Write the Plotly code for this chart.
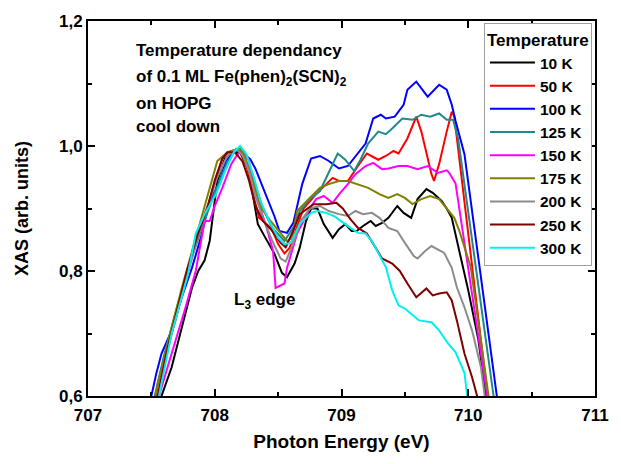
import plotly.graph_objects as go

# ---------------- data ----------------
temps = ["10 K", "50 K", "100 K", "125 K", "150 K", "175 K", "200 K", "250 K", "300 K"]
colors = ["#000000", "#ff0000", "#0000ff", "#1f8a8a", "#ff00ff", "#808000", "#8c8c8c", "#800000", "#00f0f0"]

e_10K = [707.55, 707.58, 707.66, 707.74, 707.82, 707.87, 707.92, 707.96, 707.99, 708.02, 708.08, 708.13, 708.20, 708.26, 708.30, 708.34, 708.40, 708.47, 708.53, 708.57, 708.63, 708.67, 708.72, 708.76, 708.81, 708.86, 708.93, 708.98, 709.03, 709.08, 709.12, 709.17, 709.23, 709.27, 709.32, 709.37, 709.44, 709.49, 709.55, 709.60, 709.67, 709.72, 709.79, 709.83, 709.87, 709.94, 710.00, 710.08, 710.12, 710.14, 710.16]
v_10K = [0.57, 0.60, 0.646, 0.71, 0.773, 0.80, 0.817, 0.848, 0.90, 0.944, 0.98, 0.99, 0.99, 0.964, 0.923, 0.875, 0.853, 0.828, 0.797, 0.79, 0.812, 0.837, 0.88, 0.90, 0.90, 0.875, 0.853, 0.867, 0.875, 0.864, 0.864, 0.872, 0.88, 0.872, 0.877, 0.885, 0.904, 0.893, 0.885, 0.915, 0.931, 0.925, 0.912, 0.90, 0.885, 0.821, 0.769, 0.69, 0.625, 0.60, 0.57]

e_50K = [707.52, 707.55, 707.61, 707.69, 707.77, 707.83, 707.89, 707.95, 708.01, 708.06, 708.10, 708.18, 708.23, 708.27, 708.31, 708.35, 708.40, 708.45, 708.50, 708.55, 708.59, 708.63, 708.70, 708.80, 708.93, 708.98, 709.05, 709.13, 709.20, 709.29, 709.35, 709.41, 709.45, 709.52, 709.59, 709.63, 709.67, 709.71, 709.73, 709.77, 709.83, 709.87, 709.89, 710.15, 710.17]
v_50K = [0.57, 0.62, 0.668, 0.721, 0.785, 0.837, 0.875, 0.907, 0.949, 0.98, 0.99, 0.995, 0.98, 0.955, 0.917, 0.885, 0.877, 0.867, 0.843, 0.828, 0.837, 0.86, 0.90, 0.923, 0.949, 0.944, 0.944, 0.968, 0.988, 0.978, 0.984, 0.992, 0.988, 1.012, 1.047, 1.023, 0.987, 0.955, 0.944, 0.971, 1.023, 1.055, 1.047, 0.60, 0.57]

e_100K = [707.48, 707.50, 707.54, 707.58, 707.65, 707.74, 707.82, 707.89, 707.96, 708.03, 708.09, 708.17, 708.23, 708.28, 708.32, 708.36, 708.41, 708.47, 708.51, 708.57, 708.62, 708.69, 708.76, 708.83, 708.90, 708.98, 709.05, 709.13, 709.19, 709.25, 709.31, 709.35, 709.42, 709.49, 709.52, 709.59, 709.68, 709.77, 709.83, 709.87, 709.90, 709.97, 710.10, 710.22, 710.24]
v_100K = [0.594, 0.60, 0.637, 0.668, 0.70, 0.758, 0.805, 0.853, 0.912, 0.939, 0.976, 0.995, 0.987, 0.979, 0.964, 0.944, 0.917, 0.888, 0.864, 0.861, 0.877, 0.939, 0.98, 0.984, 0.976, 0.964, 0.968, 0.988, 1.004, 1.044, 1.05, 1.044, 1.047, 1.066, 1.09, 1.103, 1.079, 1.098, 1.09, 1.066, 1.04, 0.987, 0.79, 0.60, 0.578]

e_125K = [707.52, 707.56, 707.60, 707.70, 707.80, 707.90, 708.00, 708.10, 708.17, 708.22, 708.30, 708.38, 708.45, 708.55, 708.62, 708.67, 708.75, 708.83, 708.97, 709.03, 709.10, 709.15, 709.21, 709.29, 709.35, 709.40, 709.48, 709.56, 709.63, 709.70, 709.77, 709.83, 709.88, 709.92, 710.20, 710.22]
v_125K = [0.594, 0.63, 0.665, 0.74, 0.81, 0.87, 0.925, 0.975, 0.995, 0.99, 0.95, 0.90, 0.87, 0.848, 0.87, 0.896, 0.915, 0.928, 0.988, 0.978, 0.96, 0.978, 1.004, 1.023, 1.019, 1.028, 1.044, 1.042, 1.05, 1.047, 1.052, 1.042, 1.042, 1.012, 0.60, 0.57]

e_150K = [707.53, 707.56, 707.66, 707.77, 707.85, 707.92, 707.96, 708.00, 708.06, 708.13, 708.18, 708.22, 708.27, 708.31, 708.36, 708.41, 708.46, 708.48, 708.55, 708.57, 708.65, 708.75, 708.80, 708.86, 708.93, 708.99, 709.05, 709.11, 709.19, 709.25, 709.32, 709.37, 709.45, 709.52, 709.60, 709.68, 709.76, 709.83, 709.85, 709.90, 710.15, 710.17]
v_150K = [0.57, 0.60, 0.668, 0.742, 0.80, 0.88, 0.88, 0.904, 0.933, 0.971, 0.987, 0.992, 0.976, 0.939, 0.90, 0.869, 0.832, 0.773, 0.78, 0.805, 0.86, 0.90, 0.915, 0.92, 0.909, 0.925, 0.939, 0.955, 0.968, 0.973, 0.963, 0.964, 0.968, 0.968, 0.963, 0.968, 0.957, 0.961, 0.957, 0.94, 0.60, 0.57]

e_175K = [707.50, 707.53, 707.66, 707.74, 707.86, 707.95, 708.02, 708.10, 708.20, 708.23, 708.30, 708.37, 708.44, 708.52, 708.57, 708.61, 708.65, 708.75, 708.83, 708.90, 708.98, 709.05, 709.13, 709.21, 709.30, 709.37, 709.44, 709.50, 709.56, 709.63, 709.70, 709.77, 709.83, 709.89, 709.93, 709.97, 710.02, 710.16, 710.18]
v_175K = [0.57, 0.60, 0.71, 0.773, 0.86, 0.923, 0.976, 0.99, 0.996, 0.987, 0.944, 0.90, 0.88, 0.86, 0.848, 0.853, 0.896, 0.917, 0.933, 0.939, 0.944, 0.944, 0.939, 0.933, 0.923, 0.917, 0.923, 0.917, 0.907, 0.915, 0.92, 0.915, 0.90, 0.885, 0.864, 0.837, 0.806, 0.60, 0.57]

e_200K = [707.52, 707.55, 707.62, 707.70, 707.78, 707.86, 707.94, 708.02, 708.10, 708.17, 708.22, 708.27, 708.32, 708.38, 708.45, 708.52, 708.56, 708.62, 708.68, 708.75, 708.83, 708.90, 708.98, 709.05, 709.11, 709.17, 709.24, 709.30, 709.37, 709.44, 709.50, 709.57, 709.60, 709.66, 709.71, 709.76, 709.81, 709.87, 709.91, 709.97, 710.03, 710.10, 710.13, 710.15]
v_200K = [0.57, 0.60, 0.668, 0.73, 0.79, 0.85, 0.90, 0.95, 0.985, 0.995, 0.985, 0.96, 0.92, 0.885, 0.85, 0.82, 0.815, 0.845, 0.88, 0.90, 0.904, 0.896, 0.891, 0.888, 0.896, 0.891, 0.893, 0.885, 0.869, 0.864, 0.845, 0.824, 0.82, 0.832, 0.84, 0.835, 0.829, 0.805, 0.774, 0.742, 0.705, 0.646, 0.60, 0.57]

e_250K = [707.52, 707.55, 707.62, 707.70, 707.78, 707.86, 707.94, 708.00, 708.06, 708.10, 708.16, 708.22, 708.27, 708.32, 708.38, 708.45, 708.52, 708.56, 708.62, 708.67, 708.78, 708.88, 708.96, 709.01, 709.07, 709.13, 709.20, 709.27, 709.32, 709.40, 709.46, 709.52, 709.59, 709.67, 709.72, 709.77, 709.83, 709.87, 709.91, 709.97, 710.03, 710.07, 710.09]
v_250K = [0.57, 0.60, 0.67, 0.735, 0.80, 0.855, 0.90, 0.945, 0.98, 0.99, 0.99, 0.975, 0.945, 0.905, 0.88, 0.865, 0.845, 0.838, 0.865, 0.891, 0.907, 0.907, 0.909, 0.90, 0.883, 0.869, 0.86, 0.837, 0.82, 0.812, 0.80, 0.78, 0.758, 0.772, 0.761, 0.764, 0.766, 0.753, 0.721, 0.668, 0.63, 0.60, 0.57]

e_300K = [707.53, 707.56, 707.66, 707.79, 707.85, 707.92, 708.01, 708.09, 708.15, 708.20, 708.25, 708.31, 708.36, 708.43, 708.50, 708.55, 708.60, 708.67, 708.76, 708.81, 708.88, 708.94, 709.01, 709.07, 709.13, 709.19, 709.24, 709.29, 709.35, 709.40, 709.45, 709.50, 709.55, 709.61, 709.71, 709.77, 709.84, 709.90, 709.97, 709.99, 710.01]
v_300K = [0.57, 0.60, 0.70, 0.796, 0.86, 0.891, 0.923, 0.964, 0.99, 1.00, 0.987, 0.949, 0.912, 0.88, 0.853, 0.843, 0.845, 0.875, 0.893, 0.896, 0.893, 0.888, 0.877, 0.869, 0.861, 0.86, 0.848, 0.828, 0.806, 0.769, 0.745, 0.74, 0.732, 0.721, 0.718, 0.705, 0.684, 0.67, 0.637, 0.60, 0.57]

energies = [e_10K, e_50K, e_100K, e_125K, e_150K, e_175K, e_200K, e_250K, e_300K]
values = [v_10K, v_50K, v_100K, v_125K, v_150K, v_175K, v_200K, v_250K, v_300K]

x_ticks = [707, 708, 709, 710, 711]
y_ticks = [0.6, 0.8, 1.0, 1.2]

FONT = "Arial, Liberation Sans, sans-serif"

fig = go.Figure()
for name, col, ex, vy in zip(temps, colors, energies, values):
    fig.add_trace(go.Scatter(x=ex, y=vy, mode="lines", name=name,
                             line=dict(color=col, width=2)))

axis_common = dict(
    showline=True, linecolor="black", linewidth=2, mirror="ticks",
    ticks="inside", ticklen=7, tickwidth=2, tickcolor="black",
    showgrid=False, zeroline=False,
    tickfont=dict(family=FONT, size=17, color="black", weight="bold"),
)

fig.update_layout(
    width=621, height=464,
    margin=dict(l=88, r=18, t=19, b=68),
    paper_bgcolor="white", plot_bgcolor="white",
    separators=",.",
    font=dict(family=FONT, color="black"),
    xaxis=dict(range=[707, 711], tickvals=x_ticks, ticklabelstandoff=3,
               minor=dict(ticks="inside", dtick=0.5, ticklen=4, tickwidth=2, tickcolor="black"),
               title=dict(text="Photon Energy (eV)", standoff=10,
                          font=dict(family=FONT, size=19, color="black", weight="bold")),
               **axis_common),
    yaxis=dict(range=[0.6, 1.2], tickvals=y_ticks, tickformat=".1f",
               minor=dict(ticks="inside", dtick=0.1, ticklen=4, tickwidth=2, tickcolor="black"),
               title=dict(text="XAS (arb. units)", standoff=26,
                          font=dict(family=FONT, size=18, color="black", weight="bold")),
               **axis_common),
    legend=dict(
        x=0.994, y=0.995, xanchor="right", yanchor="top",
        bgcolor="white", bordercolor="#a0a0a0", borderwidth=1,
        font=dict(family=FONT, size=15.5, color="black", weight="bold"),
        title=dict(text="Temperature", font=dict(family=FONT, size=17, color="black", weight="bold")),
        itemwidth=45, tracegroupgap=0,
    ),
    showlegend=True,
)

ann_font = dict(family=FONT, size=17, color="black", weight="bold")
notes = [
    ("Temperature dependancy", 49),
    ("of 0.1 ML Fe(phen)<sub>2</sub>(SCN)<sub>2</sub>", 76),
    ("on HOPG", 102),
    ("cool down", 125),
]
for txt, ypx in notes:
    fig.add_annotation(text=txt, xref="paper", yref="paper",
                       x=(135 - 88) / 515, y=1 - (ypx - 19) / 377,
                       xanchor="left", yanchor="middle", showarrow=False,
                       font=ann_font, align="left")

fig.add_annotation(text="L<sub>3</sub> edge", xref="x", yref="y",
                   x=708.14, y=0.7515, xanchor="left", yanchor="middle",
                   showarrow=False, font=ann_font)

fig.write_html("out.html")
